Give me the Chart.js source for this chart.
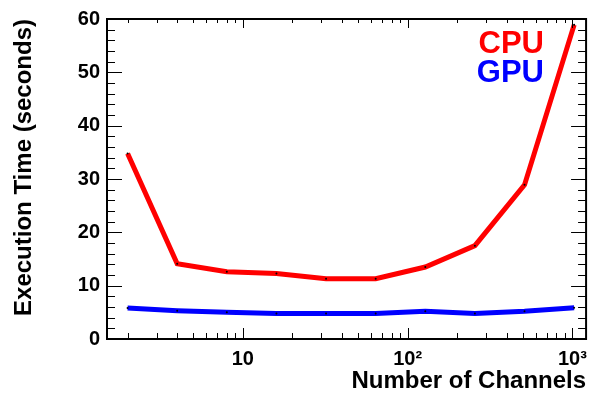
<!DOCTYPE html>
<html>
<head>
<meta charset="utf-8">
<script src="https://cdn.jsdelivr.net/npm/chart.js@4"></script>
<style>
  html, body { margin: 0; padding: 0; background: #fff; }
  #wrap { width: 595px; height: 396px; }
</style>
</head>
<body>
<div id="wrap"><canvas id="timeChart" width="595" height="396"></canvas></div>
<script>
// channel counts
const channels = [2, 4, 8, 16, 32, 64, 128, 256, 512, 1024];
// execution time in seconds
const cpuTimes = [34.8, 14.1, 12.6, 12.3, 11.3, 11.3, 13.5, 17.5, 28.9, 58.9];
const gpuTimes = [5.8, 5.3, 5.0, 4.8, 4.8, 4.8, 5.2, 4.8, 5.2, 5.85];
// major x ticks and their labels
const xMajorTicks = [10, 100, 1000];
const xTickLabels = ['10', '10\u00B2', '10\u00B3'];
const yTicks = [0, 10, 20, 30, 40, 50, 60];

const FONT = "'Liberation Sans', Arial, Helvetica, sans-serif";

// ROOT-style frame with ticks pointing inward
const frameTicks = {
  id: 'frameTicks',
  afterDraw(chart) {
    const ctx = chart.ctx;
    const a = chart.chartArea;
    const xs = chart.scales.x, ys = chart.scales.y;
    ctx.save();
    ctx.strokeStyle = '#000';
    ctx.lineWidth = 1;
    ctx.beginPath();
    // y ticks, left and right
    for (let v = 0; v <= 60; v += 2) {
      const y = Math.round(ys.getPixelForValue(v)) + 0.5;
      const len = v % 10 === 0 ? 15 : 8;
      ctx.moveTo(a.left, y); ctx.lineTo(a.left + len, y);
      ctx.moveTo(a.right, y); ctx.lineTo(a.right - len, y);
    }
    // x ticks, bottom and top
    for (let d = 1; d <= 1000; d *= 10) {
      for (let m = 1; m <= 9; m++) {
        const v = d * m;
        if (v < xs.min || v > xs.max) continue;
        const x = Math.round(xs.getPixelForValue(v)) + 0.5;
        const major = m === 1;
        ctx.moveTo(x, a.bottom); ctx.lineTo(x, a.bottom - (major ? 11 : 6));
        ctx.moveTo(x, a.top); ctx.lineTo(x, a.top + (major ? 9 : 4));
      }
    }
    ctx.stroke();
    ctx.lineWidth = 2;
    ctx.strokeRect(a.left, a.top, a.right - a.left, a.bottom - a.top);

    // legend text in series colours
    ctx.font = 'bold 31px ' + FONT;
    ctx.textAlign = 'right';
    ctx.textBaseline = 'middle';
    chart.data.datasets.forEach((ds, i) => {
      ctx.fillStyle = ds.borderColor;
      ctx.fillText(ds.label, 544, 44 + i * 29);
    });
    ctx.restore();
  }
};

new Chart(document.getElementById('timeChart'), {
  type: 'line',
  data: {
    datasets: [
      {
        label: 'CPU',
        data: channels.map((c, i) => ({ x: c, y: cpuTimes[i] })),
        borderColor: '#ff0000',
        borderWidth: 5,
        pointRadius: 1,
        pointBackgroundColor: '#000',
        pointBorderWidth: 0,
        tension: 0
      },
      {
        label: 'GPU',
        data: channels.map((c, i) => ({ x: c, y: gpuTimes[i] })),
        borderColor: '#0000ff',
        borderWidth: 5,
        pointRadius: 1,
        pointBackgroundColor: '#000',
        pointBorderWidth: 0,
        tension: 0
      }
    ]
  },
  options: {
    responsive: false,
    animation: false,
    layout: { padding: { top: 11, right: 4, left: 0, bottom: 0 } },
    plugins: {
      legend: { display: false },
      tooltip: { enabled: false }
    },
    scales: {
      x: {
        type: 'logarithmic',
        min: 1.5,
        max: 1210,
        grid: { display: false, drawTicks: false },
        border: { display: false },
        afterBuildTicks: (s) => { s.ticks = xMajorTicks.map(v => ({ value: v })); },
        afterFit: (s) => { s.height = 57; },
        ticks: {
          color: '#000',
          padding: 8,
          maxRotation: 0,
          font: { family: FONT, size: 20, weight: 'bold' },
          callback: (v) => xTickLabels[xMajorTicks.indexOf(v)]
        },
        title: {
          display: true,
          text: 'Number of Channels',
          align: 'end',
          color: '#000',
          padding: { top: 0, bottom: 0 },
          font: { family: FONT, size: 24, weight: 'bold' }
        }
      },
      y: {
        min: 0,
        max: 60,
        grid: { display: false, drawTicks: false },
        border: { display: false },
        afterBuildTicks: (s) => { s.ticks = yTicks.map(v => ({ value: v })); },
        afterFit: (s) => { s.width = 107; },
        ticks: {
          color: '#000',
          padding: 7,
          font: { family: FONT, size: 20, weight: 'bold' }
        },
        title: {
          display: true,
          text: 'Execution Time (seconds)',
          align: 'end',
          color: '#000',
          padding: { top: 10, bottom: 0 },
          font: { family: FONT, size: 24, weight: 'bold' }
        }
      }
    }
  },
  plugins: [frameTicks]
});
</script>
</body>
</html>
